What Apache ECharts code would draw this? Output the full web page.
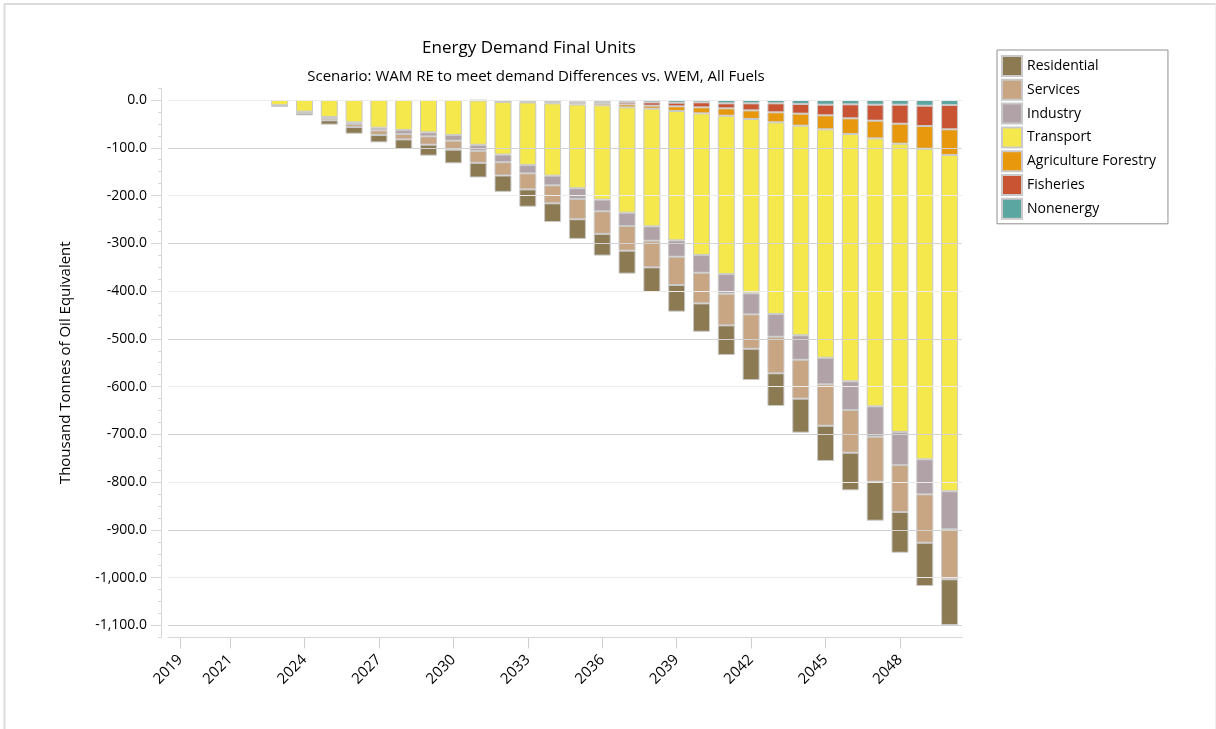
<!DOCTYPE html>
<html>
<head>
<meta charset="utf-8">
<script src="https://cdn.jsdelivr.net/npm/echarts@6/dist/echarts.min.js"></script>
<style>
html,body{margin:0;padding:0;background:#fff;}
#chart{width:1216px;height:729px;}
</style>
</head>
<body>
<div id="chart"></div>
<script>
const years = [2019,2020,2021,2022,2023,2024,2025,2026,2027,2028,2029,2030,2031,2032,2033,2034,2035,2036,2037,2038,2039,2040,2041,2042,2043,2044,2045,2046,2047,2048,2049,2050];
const labeledYears = [2019,2021,2024,2027,2030,2033,2036,2039,2042,2045,2048];

const residential = [null,null,null,null,-2,-4.9,-9.1,-14,-15.4,-20.2,-23,-28.6,-30.7,-34.2,-36.3,-39.1,-41.2,-45.4,-48.1,-51.6,-55.8,-59.4,-62.2,-65.5,-68.5,-71.2,-73.9,-78.7,-81.6,-85.2,-90.6,-95.7];
const services    = [null,null,null,null,-1,-1.8,-4.9,-6.3,-9.8,-11.2,-17.4,-18.8,-25.1,-27.9,-33.5,-37.7,-42.6,-47.4,-51.6,-55.8,-59.3,-64.2,-66.2,-72,-76.6,-81.6,-86.7,-89.4,-94.2,-98.4,-101.3,-104.7];
const industry    = [null,null,null,null,-0.5,-1,-2,-3.5,-5.6,-8.4,-8.4,-11.9,-12.6,-16,-17.4,-20.2,-22.3,-24.4,-27.9,-30,-34.2,-37,-41.2,-44,-47.5,-51.1,-55.7,-60.1,-63.6,-69.1,-73.3,-79.5];
const transport   = [null,null,null,null,-11,-24.4,-35.6,-46.8,-57.9,-62.8,-67.7,-73.3,-92.8,-110.2,-131.2,-151.4,-175.2,-197.5,-220.5,-246.3,-270.7,-296.6,-331.5,-364.9,-401.3,-438.8,-478.1,-517.7,-561,-603.5,-650.2,-704];
const agriculture = [null,null,null,null,null,null,null,null,null,null,null,null,null,-0.5,-1.5,-2.5,-3,-4.2,-6.3,-6.3,-9.8,-12.6,-15.4,-18.1,-20.9,-25.1,-29.3,-32.8,-37,-41.9,-47.5,-53.7];
const fisheries   = [null,null,null,null,null,null,null,null,null,null,null,null,null,-0.5,-1.5,-2.5,-3.5,-2.8,-4.9,-7,-7.7,-10.5,-10.5,-14.7,-18.8,-20.2,-22.3,-29.3,-33.5,-39.8,-42.6,-50.9];
const nonenergy   = [null,null,null,null,null,null,null,null,null,null,null,null,-1,-3,-2,-2,-3,-4,-4.2,-4.9,-5.6,-4.9,-7,-7,-7,-8.4,-9.8,-9.1,-9.8,-9.8,-11.9,-10.5];

const gridValues = [0,-100,-200,-300,-400,-500,-600,-700,-800,-900,-1000,-1100];

const titleText = 'Energy Demand Final Units';
const subText = 'Scenario: WAM RE to meet demand Differences vs. WEM, All Fuels';
const FONT = '"Segoe UI", "Open Sans", "Noto Sans", sans-serif';

function measure(t, size){
  const c = document.createElement('canvas').getContext('2d');
  c.font = size + 'px ' + FONT;
  return c.measureText(t).width;
}

const colors = {
  Residential:'#8C7A52', Services:'#C9A683', Industry:'#B0A2A6', Transport:'#F4E84C',
  'Agriculture Forestry':'#E8980C', Fisheries:'#C85434', Nonenergy:'#5BA6A1'
};

function barSeries(name, data){
  return {
    name: name, type:'bar', stack:'total', data: data, barWidth: 17, z: 3,
    itemStyle:{color: colors[name], borderColor:'#c9c9c9', borderWidth:1},
    emphasis:{disabled:true}
  };
}

const chart = echarts.init(document.getElementById('chart'), null, {renderer:'canvas'});

const t1w = measure(titleText, 17), t2w = measure(subText, 15);

const option = {
  animation:false,
  backgroundColor:'#fff',
  textStyle:{fontFamily:FONT},
  title:[
    {text:titleText, left: 529 - t1w/2, top: 40, padding:0, textStyle:{fontSize:17, fontWeight:'normal', color:'#000', fontFamily:FONT}},
    {text:subText, left: 536 - t2w/2, top: 69, padding:0, textStyle:{fontSize:15, fontWeight:'normal', color:'#000', fontFamily:FONT}}
  ],
  legend:{
    orient:'vertical', left:997, top:50,
    data:['Residential','Services','Industry','Transport','Agriculture Forestry','Fisheries','Nonenergy'],
    icon:'rect', itemWidth:20, itemHeight:20, itemGap:1.8,
    padding:[5,12,4,4],
    borderColor:'#8f8f8f', borderWidth:1,
    textStyle:{fontSize:14, color:'#000', fontFamily:FONT},
    selectedMode:false
  },
  grid:{left:168, right:254, top:88.06, bottom:91.6, outerBoundsMode:'none', containLabel:false},
  xAxis:{
    type:'category', data: years, boundaryGap:true,
    axisLine:{show:true, onZero:false, lineStyle:{color:'#d6d6d6', width:1}},
    axisTick:{show:true, alignWithLabel:true, length:11, lineStyle:{color:'#cfcfcf'},
      interval:function(i){ return labeledYears.indexOf(years[i]) >= 0; }},
    axisLabel:{rotate:45, fontSize:15, color:'#000', fontFamily:FONT, margin:20,
      interval:function(i){ return labeledYears.indexOf(years[i]) >= 0; }},
    splitLine:{show:false}
  },
  yAxis:[{
    type:'value', min:-1125, max:25, interval:25, offset:7,
    name:'Thousand Tonnes of Oil Equivalent', nameLocation:'middle', nameGap:88,
    nameTextStyle:{fontSize:15, color:'#000', fontFamily:FONT},
    axisLine:{show:true, lineStyle:{color:'#d6d6d6', width:1}},
    axisTick:{show:true, length:3, inside:false, lineStyle:{color:'#d6d6d6'}},
    axisLabel:{fontSize:14, color:'#000', fontFamily:FONT, margin:14,
      formatter:function(v){
        if (Math.round(v) % 100 !== 0) return '';
        return v.toLocaleString('en-US',{minimumFractionDigits:1, maximumFractionDigits:1});
      }},
    splitLine:{show:false}
  },{
    type:'value', min:-1125, max:25, offset:7, position:'left',
    axisLine:{show:false},
    axisTick:{show:true, length:10, customValues: gridValues, lineStyle:{color:'#d6d6d6'}},
    axisLabel:{show:false},
    splitLine:{show:false}
  }],
  series:[
    {
      name:'grid', type:'line', data:[], z:1, silent:true,
      markLine:{
        silent:true, symbol:['none','none'], label:{show:false},
        data: gridValues.map(function(v){
          return {yAxis:v, lineStyle:{type:'solid', width:1, color: (Math.abs(v)/100)%2===1 ? '#d2d2d2' : '#ececec'}};
        })
      }
    },
    barSeries('Nonenergy', nonenergy),
    barSeries('Fisheries', fisheries),
    barSeries('Agriculture Forestry', agriculture),
    barSeries('Transport', transport),
    barSeries('Industry', industry),
    barSeries('Services', services),
    barSeries('Residential', residential)
  ],
  graphic:[
    {type:'line', shape:{x1:4, y1:4, x2:1216, y2:4}, style:{stroke:'#dcdcdc', lineWidth:2}, silent:true},
    {type:'line', shape:{x1:4.5, y1:4, x2:4.5, y2:729}, style:{stroke:'#dcdcdc', lineWidth:2}, silent:true},
    {type:'line', shape:{x1:1215.5, y1:4, x2:1215.5, y2:729}, style:{stroke:'#f0f0f0', lineWidth:1}, silent:true}
  ]
};
chart.setOption(option);
</script>
</body>
</html>
